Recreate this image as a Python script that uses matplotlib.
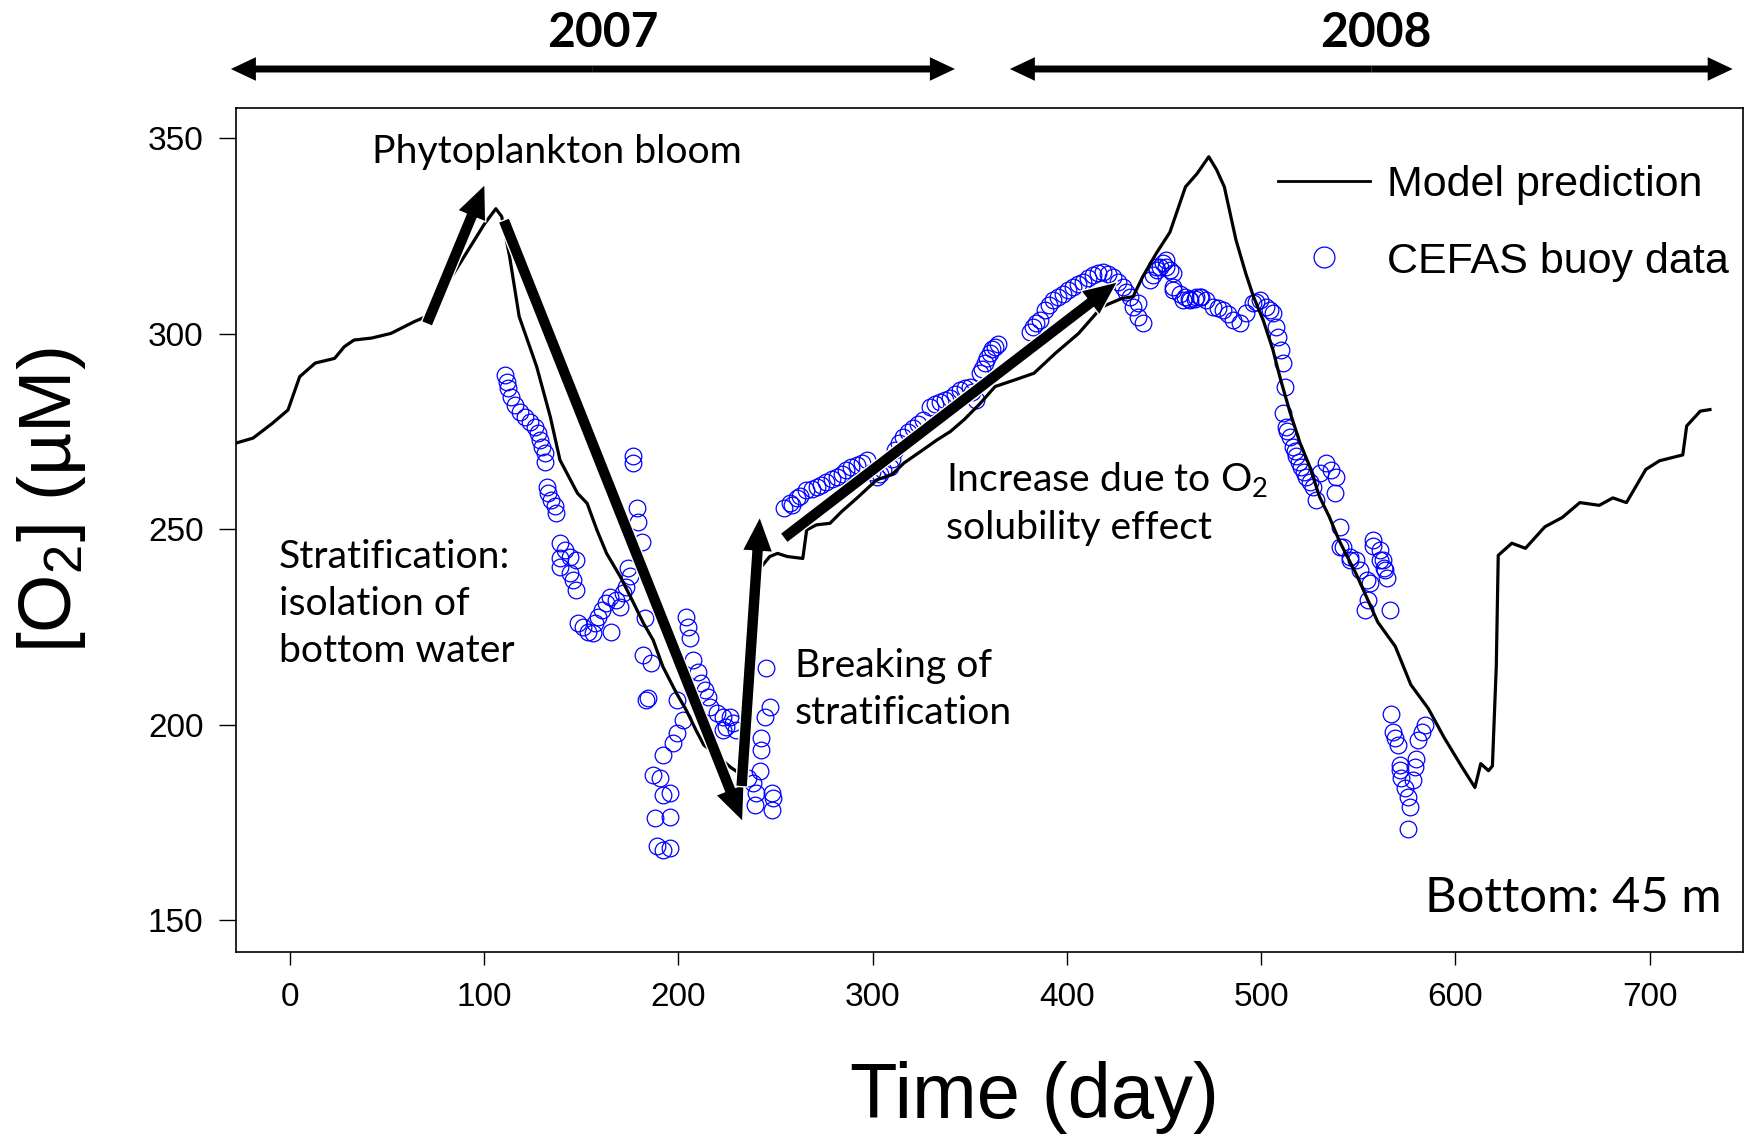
import matplotlib
matplotlib.use("Agg")
import matplotlib.pyplot as plt
from matplotlib.lines import Line2D

plt.rcParams["font.family"] = ["Liberation Sans", "DejaVu Sans"]
plt.rcParams["mathtext.default"] = "regular"

NOTE_FONT = ["Lato", "DejaVu Sans"]

# model prediction (day, O2 in uM)
model_day = [-28, -19, -9, -1, 5, 13, 23, 28, 33, 42, 52, 64, 70, 80, 90, 100, 106, 109,
             113, 118, 124, 127, 134, 139, 148, 153, 158, 163, 170, 177, 182, 187, 192,
             199, 204, 209, 213, 220, 227, 233, 238, 242, 247, 251, 256, 264, 266, 271,
             278, 284, 292, 302, 310, 316, 325, 333, 340, 347, 355, 363, 372, 383, 394,
             406, 418, 428, 434, 439, 446, 453, 461, 467, 473, 477, 481, 487, 492, 496,
             501, 506, 510, 515, 520, 525, 530, 535, 540, 549, 560, 569, 577, 586, 594,
             603, 610, 613, 617, 619, 621, 622, 629, 636, 646, 655, 664, 674, 681, 688,
             698, 705, 717, 719, 726, 731]
model_o2 = [272.0, 273.3, 277.1, 280.5, 289.0, 292.5, 293.7, 296.7, 298.4, 298.9, 300.1,
            303.1, 304.4, 312.0, 320.0, 328.0, 332.0, 330.0, 320.0, 304.4, 295.9, 291.6,
            278.8, 267.7, 259.2, 256.6, 249.8, 243.8, 237.9, 231.0, 225.9, 221.6, 214.8,
            208.0, 203.7, 198.6, 194.8, 192.0, 189.0, 187.0, 215.0, 240.0, 243.0, 243.8,
            243.0, 242.5, 249.8, 251.1, 251.5, 254.5, 258.0, 262.6, 264.0, 266.9, 270.0,
            272.8, 275.0, 278.0, 282.0, 286.5, 288.0, 289.9, 295.0, 300.1, 306.9, 309.0,
            309.5, 314.6, 320.6, 326.0, 337.6, 341.0, 345.3, 342.0, 337.6, 324.0, 315.5,
            309.5, 303.5, 295.9, 288.2, 279.6, 272.0, 266.0, 258.3, 253.2, 247.2, 238.4,
            226.2, 220.0, 210.2, 204.1, 196.8, 189.4, 183.9, 190.0, 188.2, 189.4, 215.0,
            243.3, 246.4, 245.1, 250.6, 253.0, 256.8, 256.1, 258.0, 256.8, 265.3, 267.5,
            269.0, 276.4, 280.2, 280.6]

# CEFAS buoy observations
buoy_day = [
    110.6, 111.5, 112.3, 114.0, 115.8, 118.3, 120.9, 123.5, 126.1, 127.8, 128.6, 129.5,
    131.2, 131.2, 132.1, 132.9, 134.6, 136.3, 137.2, 138.9, 141.5, 138.9, 144.1, 147.5,
    138.9, 144.1, 145.8, 147.5, 148.4, 150.9, 153.5, 156.1, 156.9, 158.6, 160.4, 162.9,
    164.7, 168.1, 169.8, 171.5, 165.5, 173.2, 174.9, 174.1, 176.7, 176.7, 178.4, 179.2,
    181.0, 182.7, 181.8, 186.1, 184.4, 183.5, 204.1, 205.0, 205.8, 207.5, 210.1, 211.8,
    213.5, 215.3, 216.1, 219.6, 223.0, 226.4, 228.1, 229.8, 224.7, 223.0, 199.0, 202.4,
    199.0, 197.2, 192.1, 187.0, 190.4, 195.5, 192.1, 187.8, 195.5, 188.7, 192.1, 195.5,
    245.3, 247.0, 244.4, 242.7, 242.7, 241.9, 238.4, 240.1, 239.3, 247.9, 248.7, 247.9,
    235.8,
    254.5, 257.3, 258.5, 260.8, 262.8, 265.9, 268.5, 271.1, 273.6, 276.2, 278.8, 281.4,
    284.0, 286.5, 289.0, 291.7, 294.3, 296.8, 299.5, 302.0, 303.6, 305.4, 308.8, 310.0,
    311.4, 313.5, 315.7, 318.2, 320.8, 323.4, 326.0, 329.4, 331.9, 334.6, 337.2, 339.7,
    342.3, 344.8, 347.4, 350.0, 351.0, 353.4, 355.1, 356.4, 357.7, 359.0, 360.3, 361.6,
    362.9, 364.5, 380.8, 382.6, 384.3, 386.0, 388.6, 390.8, 392.9, 395.5, 398.0, 400.6,
    403.2, 405.8, 408.3, 410.9, 413.5, 416.1, 418.6, 421.2, 423.8, 426.3, 428.9, 430.6,
    432.3, 434.1, 436.6, 439.2, 436.6, 442.6, 444.3, 446.1, 447.8, 449.5, 451.2, 452.9,
    454.6, 458.1, 460.6, 463.2, 465.8, 468.4,
    446.0, 451.2, 454.6, 454.6, 459.8, 463.0, 466.6, 469.0, 471.8, 475.2, 477.5, 480.3,
    483.0, 485.5, 488.9, 492.4, 495.8, 497.5, 499.2, 502.6, 504.3, 506.1, 507.8, 508.6,
    510.4, 511.2, 512.1, 511.2, 512.9, 513.5, 514.7, 516.4, 517.3, 518.1, 519.4, 520.7,
    522.0, 523.2, 525.0, 526.7, 528.4, 530.2, 533.5, 536.1, 538.7, 537.8, 540.4, 542.1,
    545.5, 549.0, 557.5, 561.0, 562.7,
    540.4, 545.6, 550.7, 555.9, 561.0, 563.6, 564.5, 555.0, 553.3, 566.2, 557.5, 554.6,
    563.2, 567.0, 567.9, 568.8, 570.5, 571.3, 571.3, 572.2, 573.9, 575.6, 576.5, 575.6,
    579.9, 579.0, 578.2, 580.8, 582.5, 584.2]
buoy_o2 = [
    289.5, 287.7, 286.0, 283.9, 281.8, 280.1, 278.8, 277.5, 276.2, 274.5, 272.8, 271.1,
    269.4, 267.3, 260.9, 259.2, 257.5, 255.8, 254.1, 246.4, 244.7, 242.5, 243.0, 242.1,
    240.4, 238.7, 237.0, 234.4, 225.9, 225.0, 223.8, 223.4, 225.9, 227.6, 229.3, 231.0,
    232.7, 231.9, 230.2, 233.6, 223.8, 235.3, 237.9, 240.0, 268.6, 266.9, 255.3, 251.9,
    246.8, 227.2, 217.8, 215.7, 206.7, 206.3, 227.6, 225.0, 222.1, 216.5, 213.5, 210.6,
    208.9, 207.1, 204.6, 202.9, 202.0, 202.0, 200.3, 198.6, 199.5, 198.6, 206.3, 201.2,
    197.8, 195.2, 192.2, 187.1, 186.2, 182.4, 182.0, 176.0, 176.4, 168.8, 167.9, 168.3,
    214.4, 204.6, 202.0, 196.5, 193.5, 188.0, 185.0, 182.4, 179.4, 182.4, 181.1, 178.1,
    186.2,
    255.5, 256.6, 256.2, 257.9, 258.6, 260.0, 260.2, 260.9, 261.2, 262.1, 262.9, 263.4,
    264.0, 265.1, 265.8, 266.4, 267.0, 267.7, 264.5, 263.4, 264.0, 265.1, 266.0, 268.0,
    270.2, 272.0, 273.7, 274.8, 275.8, 276.8, 277.9, 281.3, 282.0, 282.6, 283.0, 283.5,
    284.5, 285.6, 286.0, 286.5, 285.0, 283.0, 289.9, 291.1, 292.4, 293.8, 295.0, 296.0,
    296.7, 297.5, 300.5, 301.8, 302.7, 303.5, 306.1, 307.3, 308.6, 309.5, 310.3, 311.2,
    312.0, 312.7, 313.3, 314.2, 315.0, 315.5, 315.9, 315.3, 314.6, 313.3, 312.0, 310.8,
    309.5, 306.9, 304.4, 302.7, 307.8, 313.7, 315.0, 316.3, 317.2, 318.0, 317.2, 316.3,
    312.0, 310.3, 309.5, 308.6, 309.0, 309.5,
    317.2, 318.9, 315.5, 311.2, 308.6, 309.0, 309.5, 309.5, 308.6, 306.9, 306.5, 306.1,
    305.0, 303.5, 302.7, 305.2, 307.8, 308.2, 308.6, 306.9, 306.0, 305.2, 301.8, 299.3,
    295.9, 292.4, 286.5, 279.6, 276.2, 275.0, 273.7, 271.1, 270.0, 268.6, 267.3, 266.0,
    264.7, 263.4, 262.0, 260.9, 257.5, 264.3, 266.9, 265.1, 263.4, 259.2, 250.6, 245.5,
    243.0, 242.1, 247.2, 244.7, 242.1,
    245.5, 242.1, 239.5, 236.1, 242.1, 239.5, 237.4, 231.8, 229.3, 229.3, 245.7, 237.1,
    240.0, 202.8, 198.2, 196.5, 194.7, 189.6, 188.3, 186.2, 183.7, 181.5, 179.0, 173.4,
    191.3, 189.2, 185.8, 196.0, 198.2, 199.9]

x_ticks = [0, 100, 200, 300, 400, 500, 600, 700]
y_ticks = [150, 200, 250, 300, 350]

# process arrows: (tail day, tail O2) -> (head day, head O2)
process_arrows = [
    ((70.5, 302.5), (100.4, 338.3)),
    ((110.1, 329.1), (233.1, 175.1)),
    ((232.5, 184.1), (241.9, 253.2)),
    ((254.2, 247.7), (426.1, 313.3)),
]
years = ["2007", "2008"]
year_spans = [(-30.4, 342.3), (370.6, 742.7)]
year_label_x = [161, 559]

fig = plt.figure(figsize=(17.5, 11.34), dpi=100)
ax = fig.add_axes([0.1346, 0.1605, 0.8614, 0.7447])

ax.plot(model_day, model_o2, color="black", lw=2.3, zorder=3)
ax.plot(buoy_day, buoy_o2, linestyle="none", marker="o", markersize=12,
        markerfacecolor="none", markeredgecolor="blue", markeredgewidth=0.9, zorder=2)

ax.set_xlim(-28, 748)
ax.set_ylim(141.8, 357.9)
ax.set_xticks(x_ticks)
ax.set_yticks(y_ticks)
ax.tick_params(axis="x", direction="out", length=9.5, width=1, pad=12, labelsize=24)
ax.tick_params(axis="y", direction="out", length=12, width=1, pad=11, labelsize=24)
for s in ax.spines.values():
    s.set_linewidth(1.2)

ax.set_xlabel("Time (day)", fontsize=56)
ax.xaxis.set_label_coords(0.530, -0.172)
ax.xaxis.label.set_va("center")
ax.set_ylabel("[O$_2$] (\u00b5M)", fontsize=54, va="center")
ax.yaxis.set_label_coords(-0.122, 0.535)

for tail, head in process_arrows:
    ax.annotate("", xy=head, xytext=tail, zorder=5,
                arrowprops=dict(arrowstyle="simple,head_length=25,head_width=22,tail_width=8.5",
                                mutation_scale=1, fc="black", ec="white", lw=1,
                                shrinkA=0, shrinkB=0))

trans = ax.get_xaxis_transform()
for label, (x0, x1), lx in zip(years, year_spans, year_label_x):
    mid = (x0 + x1) / 2
    for end in (x0, x1):
        ax.annotate("", xy=(end, 1.0456), xytext=(mid, 1.0456), xycoords=trans,
                    textcoords=trans, annotation_clip=False,
                    arrowprops=dict(arrowstyle="simple,head_length=18,head_width=17,tail_width=5",
                                    mutation_scale=1, fc="black", ec="black", lw=0,
                                    shrinkA=0, shrinkB=0))
    ax.text(lx, 1.088, label, transform=trans, ha="center", va="center",
            fontsize=34.5, fontweight="bold", family=NOTE_FONT)

ax.text(42.2, 343.7, "Phytoplankton bloom", fontsize=28.2, family=NOTE_FONT, va="baseline")
ax.text(-5.7, 230.9, "Stratification:\nisolation of\nbottom water", fontsize=28.2,
        family=NOTE_FONT, va="center", linespacing=1.38)
ax.text(259.9, 208.9, "Breaking of\nstratification", fontsize=28.2, family=NOTE_FONT,
        va="center", linespacing=1.38)
ax.text(337.6, 256.7, "Increase due to O$_2$\nsolubility effect", fontsize=28.2,
        family=NOTE_FONT, va="center", linespacing=1.38)
ax.text(737, 155.7, "Bottom: 45 m", fontsize=35.3, family=NOTE_FONT, ha="right", va="center")

handles = [Line2D([], [], color="black", lw=2),
           Line2D([], [], linestyle="none", marker="o", markersize=15,
                  markerfacecolor="none", markeredgecolor="blue", markeredgewidth=0.9)]
ax.legend(handles, ["Model prediction", "CEFAS buoy data"], loc="upper left",
          bbox_to_anchor=(0.6915, 0.932), frameon=False, fontsize=31,
          handlelength=2.13, handletextpad=0.4, labelspacing=0.85,
          borderpad=0, borderaxespad=0)

fig.savefig("out.png", dpi=100)
